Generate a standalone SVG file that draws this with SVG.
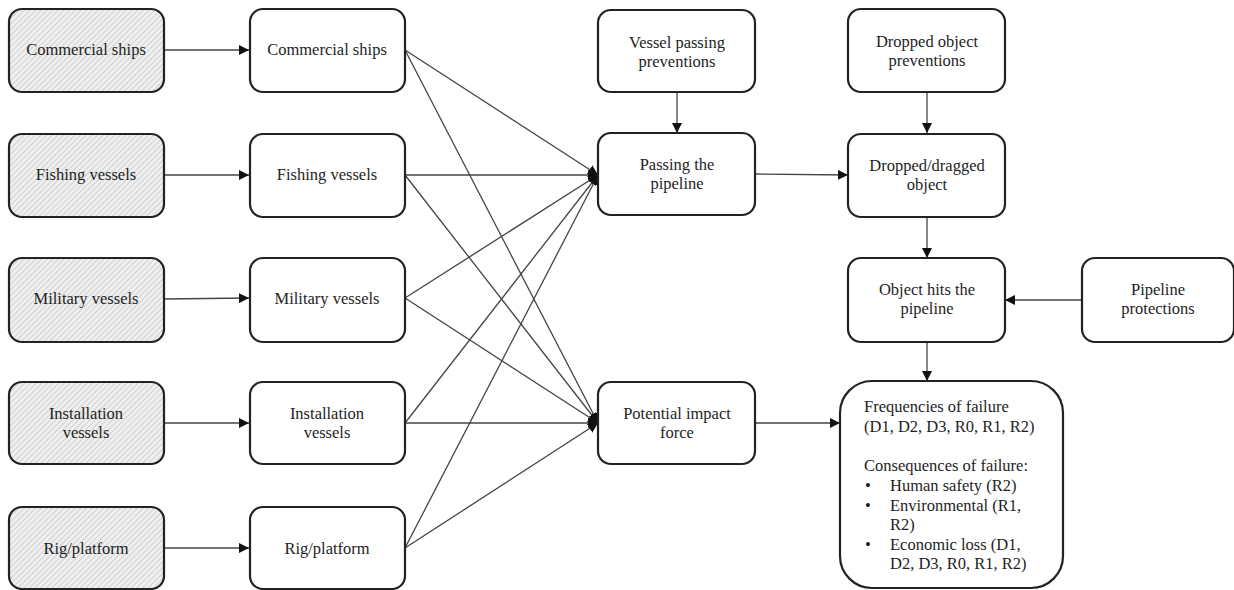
<svg xmlns="http://www.w3.org/2000/svg" width="1234" height="590" viewBox="0 0 1234 590">
  <defs>
    <pattern id="hatch" width="4" height="4" patternUnits="userSpaceOnUse" patternTransform="rotate(45)">
      <rect width="4" height="4" fill="#efefef"/>
      <line x1="0" y1="0" x2="0" y2="4" stroke="#bdbdbd" stroke-width="1.2"/>
    </pattern>
    <marker id="arr" viewBox="0 0 10 10" refX="10" refY="5" markerWidth="10" markerHeight="10" markerUnits="userSpaceOnUse" orient="auto">
      <path d="M0,0 L10,5 L0,10 Z" fill="#111"/>
    </marker>
    <style>
      .box { fill: #fff; stroke: #222; stroke-width: 2.2; }
      .src { fill: url(#hatch); stroke: #222; stroke-width: 2.2; }
      text { font-family: "Liberation Serif", Tinos, "Times New Roman", "DejaVu Serif", serif; font-size: 16.5px; fill: #1e1e1e; }
      .lbl { text-anchor: middle; }
      .edge { stroke: #444; stroke-width: 1.3; fill: none; marker-end: url(#arr); }
    </style>
  </defs>
  <rect width="1234" height="590" fill="#fff"/>

  <!-- connectors -->
  <g id="connectors">
    <!-- sources to vessel types -->
    <line class="edge" x1="164" y1="50" x2="249" y2="50"/>
    <line class="edge" x1="164" y1="175" x2="249" y2="175"/>
    <line class="edge" x1="164" y1="299" x2="249" y2="298"/>
    <line class="edge" x1="164" y1="423" x2="249" y2="423"/>
    <line class="edge" x1="164" y1="548" x2="249" y2="548"/>
    <!-- vessel types to passing -->
    <line class="edge" x1="405" y1="50" x2="598" y2="175"/>
    <line class="edge" x1="405" y1="175" x2="598" y2="175"/>
    <line class="edge" x1="405" y1="298" x2="598" y2="175"/>
    <line class="edge" x1="405" y1="423" x2="598" y2="175"/>
    <line class="edge" x1="405" y1="548" x2="598" y2="175"/>
    <!-- vessel types to impact force -->
    <line class="edge" x1="405" y1="50" x2="598" y2="423"/>
    <line class="edge" x1="405" y1="175" x2="598" y2="423"/>
    <line class="edge" x1="405" y1="298" x2="598" y2="423"/>
    <line class="edge" x1="405" y1="423" x2="598" y2="423"/>
    <line class="edge" x1="405" y1="548" x2="598" y2="423"/>
    <!-- right-hand chain -->
    <line class="edge" x1="677" y1="92" x2="677" y2="133"/>
    <line class="edge" x1="755" y1="174" x2="848" y2="175"/>
    <line class="edge" x1="927" y1="92" x2="927" y2="133"/>
    <line class="edge" x1="927" y1="217" x2="927" y2="258"/>
    <line class="edge" x1="1082" y1="300" x2="1005" y2="300"/>
    <line class="edge" x1="927" y1="342" x2="927" y2="381"/>
    <line class="edge" x1="755" y1="423" x2="840" y2="423"/>
  </g>

  <!-- hatched source nodes -->
  <g id="src-commercial">
    <rect class="src" x="9" y="9" width="155" height="83" rx="13"/>
    <text class="lbl" x="86" y="55">Commercial ships</text>
  </g>
  <g id="src-fishing">
    <rect class="src" x="9" y="134" width="155" height="83" rx="13"/>
    <text class="lbl" x="86" y="180">Fishing vessels</text>
  </g>
  <g id="src-military">
    <rect class="src" x="9" y="258" width="155" height="84" rx="13"/>
    <text class="lbl" x="86" y="304">Military vessels</text>
  </g>
  <g id="src-installation">
    <rect class="src" x="9" y="382" width="155" height="82" rx="13"/>
    <text class="lbl" x="86" y="419">Installation</text>
    <text class="lbl" x="86" y="438">vessels</text>
  </g>
  <g id="src-rig">
    <rect class="src" x="9" y="507" width="155" height="82" rx="13"/>
    <text class="lbl" x="86" y="554">Rig/platform</text>
  </g>

  <!-- vessel type nodes -->
  <g id="commercial">
    <rect class="box" x="250" y="9" width="155" height="83" rx="13"/>
    <text class="lbl" x="327" y="55">Commercial ships</text>
  </g>
  <g id="fishing">
    <rect class="box" x="250" y="134" width="155" height="83" rx="13"/>
    <text class="lbl" x="327" y="180">Fishing vessels</text>
  </g>
  <g id="military">
    <rect class="box" x="250" y="258" width="155" height="84" rx="13"/>
    <text class="lbl" x="327" y="304">Military vessels</text>
  </g>
  <g id="installation">
    <rect class="box" x="250" y="382" width="155" height="82" rx="13"/>
    <text class="lbl" x="327" y="419">Installation</text>
    <text class="lbl" x="327" y="438">vessels</text>
  </g>
  <g id="rig">
    <rect class="box" x="250" y="507" width="155" height="82" rx="13"/>
    <text class="lbl" x="327" y="554">Rig/platform</text>
  </g>

  <!-- middle column -->
  <g id="vessel-prev">
    <rect class="box" x="598" y="10" width="157" height="82" rx="13"/>
    <text class="lbl" x="677" y="48">Vessel passing</text>
    <text class="lbl" x="677" y="67">preventions</text>
  </g>
  <g id="passing">
    <rect class="box" x="598" y="133" width="157" height="82" rx="13"/>
    <text class="lbl" x="677" y="170">Passing the</text>
    <text class="lbl" x="677" y="189">pipeline</text>
  </g>
  <g id="impact">
    <rect class="box" x="598" y="382" width="157" height="82" rx="13"/>
    <text class="lbl" x="677" y="419">Potential impact</text>
    <text class="lbl" x="677" y="438">force</text>
  </g>

  <!-- right column -->
  <g id="dropped-prev">
    <rect class="box" x="848" y="9" width="157" height="83" rx="13"/>
    <text class="lbl" x="927" y="47">Dropped object</text>
    <text class="lbl" x="927" y="66">preventions</text>
  </g>
  <g id="dropped">
    <rect class="box" x="848" y="134" width="157" height="83" rx="13"/>
    <text class="lbl" x="927" y="171">Dropped/dragged</text>
    <text class="lbl" x="927" y="190">object</text>
  </g>
  <g id="hits">
    <rect class="box" x="848" y="258" width="157" height="84" rx="13"/>
    <text class="lbl" x="927" y="295">Object hits the</text>
    <text class="lbl" x="927" y="314">pipeline</text>
  </g>
  <g id="protections">
    <rect class="box" x="1082" y="258" width="152" height="84" rx="13"/>
    <text class="lbl" x="1158" y="295">Pipeline</text>
    <text class="lbl" x="1158" y="314">protections</text>
  </g>

  <!-- outcome node -->
  <g id="outcome">
    <rect class="box" x="840" y="381" width="223" height="207" rx="32"/>
    <text x="864" y="412">Frequencies of failure</text>
    <text x="864" y="432">(D1, D2, D3, R0, R1, R2)</text>
    <text x="864" y="471">Consequences of failure:</text>
    <text x="865" y="491">•</text>
    <text x="890" y="491">Human safety (R2)</text>
    <text x="865" y="511">•</text>
    <text x="890" y="511">Environmental (R1,</text>
    <text x="890" y="530">R2)</text>
    <text x="865" y="550">•</text>
    <text x="890" y="550">Economic loss (D1,</text>
    <text x="890" y="569">D2, D3, R0, R1, R2)</text>
  </g>
</svg>
